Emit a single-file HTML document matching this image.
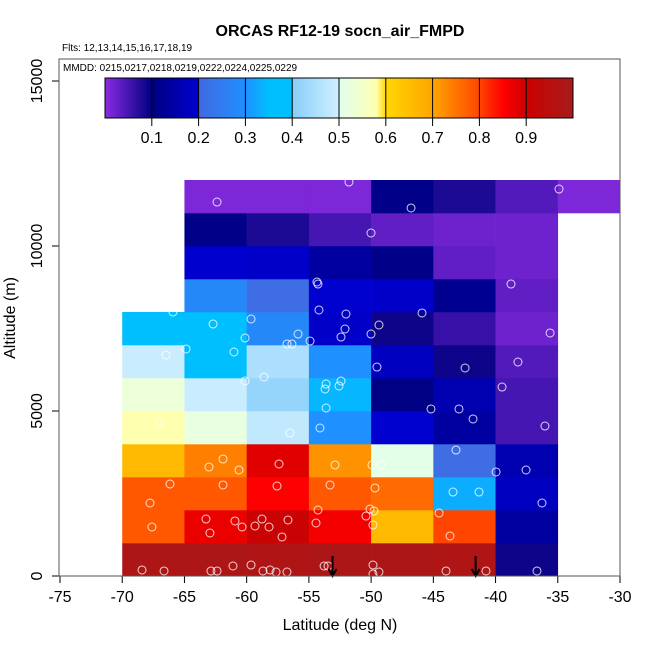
<!DOCTYPE html>
<html><head><meta charset="utf-8"><style>
body{margin:0;background:#fff;}
svg{display:block;font-family:"Liberation Sans",sans-serif;}
</style></head><body>
<svg id="chart" width="650" height="650" viewBox="0 0 650 650" xmlns="http://www.w3.org/2000/svg">
<defs><linearGradient id="cbgrad" x1="0" x2="1" y1="0" y2="0"></linearGradient></defs>
<rect width="650" height="650" fill="#fff"/>
<text x="340" y="36" text-anchor="middle" font-size="16" font-weight="bold">ORCAS RF12-19 socn_air_FMPD</text>
<text x="62" y="51" font-size="10">Flts: 12,13,14,15,16,17,18,19</text>
<g id="cells"></g>
<g id="points"></g>
<g id="arrows"></g>
<g id="axes"></g>
<rect x="59" y="59" width="561" height="517" fill="none" stroke="#555" stroke-width="1"/>
<text x="63" y="71" font-size="10">MMDD: 0215,0217,0218,0219,0222,0224,0225,0229</text>
<g id="colorbar"></g>
<text x="340" y="630" text-anchor="middle" font-size="16">Latitude (deg N)</text>
<text transform="translate(15,318) rotate(-90)" text-anchor="middle" font-size="16">Altitude (m)</text>
</svg>
<script>
const latBins = [-70,-65,-60,-55,-50,-45,-40,-35];
const altBins = [0,1000,2000,3000,4000,5000,6000,7000,8000,9000,10000,11000];
// rows: alt bin index 0..11; columns lat bins -70..-35 (null = no data)
const row0  = [0.98,0.98,0.975,0.98,0.98,0.975,0.09,null];
const row1  = [0.78,0.87,0.91,0.86,0.66,0.80,0.14,null];
const row2  = [0.78,0.78,0.85,0.78,0.76,0.33,0.18,null];
const row3  = [0.66,0.74,0.88,0.72,0.51,0.21,0.16,null];
const row4  = [0.58,0.52,0.48,0.30,0.199,0.14,0.05,null];
const row5  = [0.53,0.49,0.42,0.34,0.105,0.16,0.05,null];
const row6  = [0.49,0.37,0.45,0.30,0.18,0.09,0.04,null];
const row7  = [0.37,0.37,0.28,0.19,0.09,0.06,0.02,null];
const row8  = [null,0.28,0.21,0.199,0.19,0.12,0.03,null];
const row9  = [null,0.197,0.19,0.14,0.11,0.03,0.02,null];
const row10 = [null,0.11,0.08,0.05,0.03,0.02,0.02,null];
const row11 = [null,0.01,0.01,0.01,0.11,0.08,0.04,0.01];
const gridRows = [row0,row1,row2,row3,row4,row5,row6,row7,row8,row9,row10,row11];
const pointLat = [];
const pointAlt = [];
const pointPx = [[245,381],[264,377],[326,384],[325,389],[341,381],[339,386],[502,387],[326,408],[431,409],[459,409],[473,419],[545,426],[159,423],[290,433],[320,428],[456,450],[209,467],[223,459],[239,470],[279,464],[335,465],[372,465],[381,465],[496,472],[526,470],[170,484],[223,485],[277,486],[330,485],[375,488],[150,503],[453,492],[479,492],[542,503],[152,527],[206,519],[210,533],[235,521],[242,527],[255,526],[262,519],[269,527],[288,520],[282,537],[318,510],[316,523],[366,516],[370,509],[374,511],[373,525],[439,513],[450,536],[142,570],[164,571],[211,571],[217,571],[233,566],[251,565],[263,571],[270,570],[276,572],[287,572],[324,566],[328,566],[373,565],[373,574],[379,572],[446,571],[486,571],[537,571],[349,182],[217,202],[411,208],[559,189],[371,233],[317,282],[318,284],[511,284],[173,312],[213,324],[251,319],[245,338],[298,334],[287,344],[292,344],[310,341],[319,310],[346,314],[345,329],[341,337],[371,334],[379,325],[422,313],[550,333],[186,349],[234,352],[166,355],[377,367],[465,368],[518,362]];
pointPx.forEach(p=>{pointLat.push(+(-75+(p[0]-60)/12.444).toFixed(2));pointAlt.push(Math.round((576-p[1])/0.033));});
const arrowLat = [-53.1,-41.6];
const xTicks = [-75,-70,-65,-60,-55,-50,-45,-40,-35,-30];
const yTicks = [0,5000,10000,15000];
const cbTicks = [0.1,0.2,0.3,0.4,0.5,0.6,0.7,0.8,0.9];

const NS="http://www.w3.org/2000/svg";
function X(lat){return 60+(lat+75)*560/45;}
function Y(alt){return 576-alt*0.033;}
const stops=[[0,'#8a2be2'],[0.1,'#000080'],[0.2,'#0000d0'],[0.2,'#4169e1'],[0.3,'#1e90ff'],[0.35,'#00bfff'],[0.4,'#00bfff'],[0.4,'#87cefa'],[0.5,'#d0f0ff'],[0.5,'#e0fff0'],[0.58,'#ffffb0'],[0.6,'#ffd700'],[0.7,'#ffa500'],[0.8,'#ff4500'],[0.85,'#ff0000'],[0.9,'#cd0000'],[1.0,'#a51c1c']];
function hx(c){return [1,3,5].map(i=>parseInt(c.substr(i,2),16));}
function cmap(v){
  for(let i=0;i<stops.length-1;i++){
    const a=stops[i],b=stops[i+1];
    if(v>=a[0]&&v<=b[0]&&b[0]>a[0]){
      const t=(v-a[0])/(b[0]-a[0]);const ca=hx(a[1]),cb=hx(b[1]);
      return 'rgb('+ca.map((x,k)=>Math.round(x+(cb[k]-x)*t)).join(',')+')';
    }
  }
  return stops[stops.length-1][1];
}
function mk(tag,attrs,parent){const e=document.createElementNS(NS,tag);for(const k in attrs)e.setAttribute(k,attrs[k]);parent.appendChild(e);return e;}

const cells=document.getElementById('cells');
gridRows.forEach((row,r)=>{
  row.forEach((v,c)=>{
    if(v===null)return;
    const x0=X(latBins[c]),x1=X(latBins[c]+5),y1=Y(altBins[r]),y0=Y(altBins[r]+1000);
    const e=mk('rect',{x:x0,y:y0,width:x1-x0+0.3,height:y1-y0+0.3,fill:cmap(v)},cells);
    
    
  });
});
const pts=document.getElementById('points');
pointLat.forEach((lat,i)=>{
  const e=mk('circle',{cx:X(lat),cy:Y(pointAlt[i]),r:4,fill:'none',stroke:'#fff','stroke-opacity':0.8,'stroke-width':1},pts);
  
  
});
const arr=document.getElementById('arrows');
arrowLat.forEach(lat=>{
  const x=X(lat);
  const g=mk('g',{},arr);
  
  
  mk('line',{x1:x,x2:x,y1:556,y2:576,stroke:'#000','stroke-width':2},g);
  mk('path',{d:`M${x-4},${569} L${x},${576} L${x+4},${569}`,fill:'none',stroke:'#000','stroke-width':2},g);
});
const ax=document.getElementById('axes');
xTicks.forEach(t=>{
  const x=X(t);
  mk('line',{x1:x,x2:x,y1:576,y2:583,stroke:'#000'},ax);
  const tx=mk('text',{x:x,y:602,'text-anchor':'middle','font-size':16},ax);tx.textContent=t;
  
  
});
mk('line',{x1:60,x2:620,y1:576,y2:576,stroke:'#000'},ax);
yTicks.forEach(t=>{
  const y=Y(t);
  mk('line',{x1:52,x2:59,y1:y,y2:y,stroke:'#000'},ax);
  const tx=mk('text',{transform:`translate(42,${y}) rotate(-90)`,'text-anchor':'middle','font-size':16},ax);tx.textContent=t;
  
  
});
mk('line',{x1:59,x2:59,y1:Y(0),y2:Y(15000),stroke:'#000'},ax);
const grad=document.getElementById('cbgrad');
stops.forEach(s=>mk('stop',{offset:s[0],'stop-color':s[1]},grad));
const cb=document.getElementById('colorbar');
const cbx0=105,cbx1=573,cby0=78,cby1=118;
mk('rect',{x:cbx0,y:cby0,width:cbx1-cbx0,height:cby1-cby0,fill:'url(#cbgrad)',stroke:'#000'},cb);
cbTicks.forEach(t=>{
  const x=cbx0+t*(cbx1-cbx0);
  mk('line',{x1:x,x2:x,y1:cby0,y2:cby1+8,stroke:'#000'},cb);
  const tx=mk('text',{x:x,y:143,'text-anchor':'middle','font-size':16},cb);tx.textContent=t.toFixed(1);
  
  
});
</script>
</body></html>
